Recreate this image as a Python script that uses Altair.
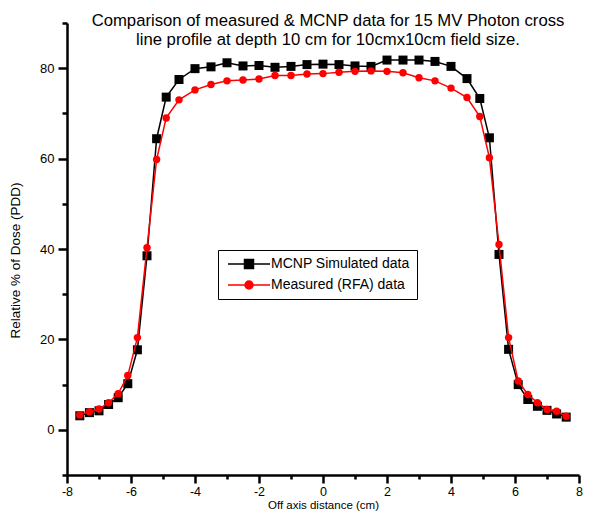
import altair as alt
import pandas as pd

# Off-axis positions (cm)
x_cm = [-7.6, -7.3, -7.0, -6.7, -6.4, -6.1, -5.8, -5.5, -5.2, -4.9,
        -4.5, -4.0, -3.5, -3.0, -2.5, -2.0, -1.5, -1.0, -0.5, 0.0,
        0.5, 1.0, 1.5, 2.0, 2.5, 3.0, 3.5, 4.0, 4.5, 4.9,
        5.2, 5.5, 5.8, 6.1, 6.4, 6.7, 7.0, 7.3, 7.6]

# MCNP simulated relative dose (%)
mcnp = [3.1, 3.8, 4.2, 5.6, 7.1, 10.2, 17.7, 38.5, 64.4, 73.6,
        77.5, 79.9, 80.3, 81.2, 80.5, 80.6, 80.2, 80.4, 80.8, 80.9,
        80.8, 80.5, 80.4, 81.8, 81.8, 81.8, 81.5, 80.4, 77.7, 73.3,
        64.6, 38.8, 17.8, 10.0, 6.7, 5.2, 4.3, 3.5, 2.8]

# Measured (RFA) relative dose (%)
measured = [3.3, 4.0, 4.6, 6.0, 8.0, 12.0, 20.4, 40.3, 59.8, 69.0,
            73.0, 75.2, 76.4, 77.2, 77.4, 77.6, 78.4, 78.4, 78.7, 78.8,
            79.1, 79.3, 79.4, 79.3, 79.0, 77.9, 77.2, 75.6, 73.5, 69.3,
            60.2, 41.0, 20.4, 10.8, 7.8, 6.0, 4.5, 4.1, 3.0]

series_names = ["MCNP Simulated data", "Measured (RFA) data"]
series_colors = ["black", "red"]

title_lines = ["Comparison of measured & MCNP data for 15 MV Photon cross",
               "line profile at depth 10 cm for 10cmx10cm field size."]

x_ticks = list(range(-8, 9))
y_ticks = list(range(-10, 91, 10))

df = pd.DataFrame({
    "x": x_cm + x_cm,
    "y": mcnp + measured,
    "series": [series_names[0]] * len(x_cm) + [series_names[1]] * len(x_cm),
})

FONT = "Liberation Sans"

sq_path = "M-4.2,0H4.2M-0.9,-0.9H0.9V0.9H-0.9Z"
ci_path = "M-4.2,0H4.2M0.8,0A0.8,0.8,0,1,1,-0.8,0A0.8,0.8,0,1,1,0.8,0Z"

is_first = "datum.value == '%s'" % series_names[0]

legend = alt.Legend(
    title=None, orient="none", legendX=151, legendY=227,
    strokeColor="black", padding=7, labelFont=FONT, labelFontSize=14,
    labelColor="black", symbolSize=100, symbolStrokeWidth=1.5,
    symbolOffset=17, labelOffset=15, rowPadding=6, symbolOpacity=1,
    symbolType=alt.ExprRef(expr="%s ? '%s' : '%s'" % (is_first, sq_path, ci_path)),
    symbolFillColor=alt.ExprRef(expr="%s ? '%s' : '%s'" % (is_first, series_colors[0], series_colors[1])),
    symbolStrokeColor=alt.ExprRef(expr="%s ? '%s' : '%s'" % (is_first, series_colors[0], series_colors[1])),
)

color = alt.Color("series:N", scale=alt.Scale(domain=series_names, range=series_colors), legend=legend)

x_axis = alt.Axis(
    values=x_ticks,
    labelExpr="datum.value % 2 === 0 ? '' + datum.value : ''",
    tickSize=8,
    tickDash={"condition": {"test": "datum.value % 2 === 0", "value": [20, 1]}, "value": [4, 20]},
    labelFlush=False, labelOverlap=False, labelPadding=2, labelFontSize=12.5,
    title="Off axis distance (cm)", titleFontSize=11.5,
    titleX=256, titleY=30, titleBaseline="middle", titleAlign="center",
)
y_axis = alt.Axis(
    values=y_ticks,
    labelExpr="datum.value % 20 === 0 ? '' + datum.value : ''",
    tickSize=9,
    tickDash={"condition": {"test": "datum.value % 20 === 0", "value": [20, 1]}, "value": [5, 20]},
    labelOverlap=False, labelPadding=4,
    title="Relative % of Dose (PDD)", titleFontSize=13.5,
    titleX=-52, titleY=237, titleBaseline="middle", titleAlign="center", titleAngle=-90,
)

base = alt.Chart(df).encode(
    x=alt.X("x:Q", scale=alt.Scale(domain=[-8, 8], nice=False, zero=False), axis=x_axis),
    y=alt.Y("y:Q", scale=alt.Scale(domain=[-10, 90], nice=False, zero=False), axis=y_axis),
    color=color,
)

l1 = base.transform_filter(alt.datum.series == series_names[0]).mark_line(
    strokeWidth=1.5,
    point=alt.OverlayMarkDef(shape="square", size=81, filled=True, opacity=1),
)
l2 = base.transform_filter(alt.datum.series == series_names[1]).mark_line(
    strokeWidth=1.5,
    point=alt.OverlayMarkDef(shape="circle", size=55, filled=True, opacity=1),
)

chart = alt.layer(l1, l2).properties(
    width=512, height=452,
    title=alt.TitleParams(text=title_lines, anchor="middle", frame="group",
                          font=FONT, fontSize=16.7, fontWeight="normal",
                          color="black", offset=-32, lineHeight=19, dx=5),
    autosize=alt.AutoSizeParams(type="none"),
    padding={"left": 59, "top": 15, "right": 4, "bottom": 37},
).configure_view(stroke=None).configure_axis(
    domainColor="black", domainWidth=2.5, tickColor="black", tickWidth=2.5,
    grid=False, labelFont=FONT, labelFontSize=13, labelColor="black",
    titleFont=FONT, titleFontWeight="normal", titleColor="black",
)

chart.save("out.html", embed_options={"renderer": "svg", "actions": False})
